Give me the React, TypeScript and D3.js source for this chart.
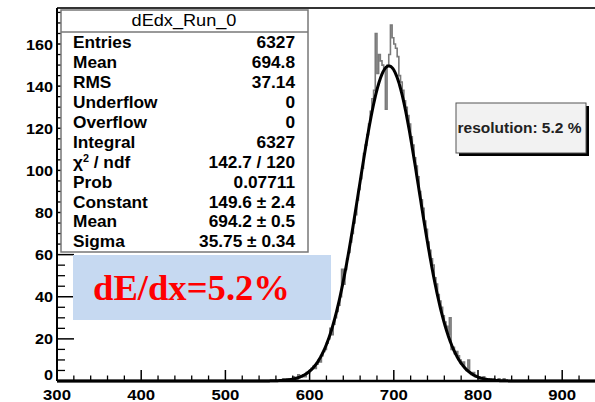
import React from 'react';
import * as d3 from 'd3';

// Histogram title and statistics box contents
const histTitle = 'dEdx_Run_0';
const statLabels = ['Entries', 'Mean', 'RMS', 'Underflow', 'Overflow', 'Integral', 'χ2 / ndf', 'Prob', 'Constant', 'Mean', 'Sigma'];
const statValues = ['6327', '694.8', '37.14', '0', '0', '6327', '142.7 / 120', '0.07711', '149.6 ± 2.4', '694.2 ± 0.5', '35.75 ± 0.34'];

// dE/dx histogram: bins of width 2 starting at 560
const binStart = 560;
const binWidth = 2;
const counts = [
  0, 0, 0, 0, 1,
  0, 1, 0, 1, 1,
  2, 1, 1, 3, 2,
  2, 3, 2, 4, 4,
  5, 6, 7, 6, 8,
  10, 9, 12, 14, 15,
  18, 20, 25, 22, 27,
  30, 33, 36, 40, 53,
  46, 53, 58, 61, 66,
  70, 75, 79, 86, 91,
  96, 101, 108, 112, 117,
  122, 128, 134, 138, 165,
  146, 155, 152, 150, 148,
  129, 150, 155, 169, 163,
  160, 158, 154, 145, 142,
  138, 133, 130, 126, 122,
  116, 112, 106, 102, 97,
  90, 86, 82, 76, 72,
  66, 62, 58, 55, 49,
  46, 41, 38, 35, 31,
  28, 26, 22, 30, 15,
  16, 13, 14, 12, 10,
  8, 9, 6, 5, 10,
  4, 3, 4, 2, 2,
  2, 1, 1, 2, 0,
  1, 0, 1, 0, 1,
  0, 0, 1, 0, 0,
  1, 0, 0, 0, 0,
];

// Gaussian fit parameters
const fitConstant = 149.6;
const fitMean = 694.2;
const fitSigma = 35.75;

const xTickValues = [300, 400, 500, 600, 700, 800, 900];
const yTickValues = [0, 20, 40, 60, 80, 100, 120, 140, 160];

const resolutionText = 'resolution: 5.2 %';
const annotationText = 'dE/dx=5.2%';

const W = 595;
const H = 402;
const SANS = '"Liberation Sans", Arial, Helvetica, sans-serif';
const SERIF = '"Liberation Serif", "Times New Roman", serif';

function SText(props: {
  x: number; y: number; anchor?: string; size: number; weight?: string | number; sx?: number; fill?: string; children: React.ReactNode;
}) {
  const { x, y, anchor = 'start', size, weight = 'normal', sx = 1.08, fill = '#000', children } = props;
  return (
    <text
      transform={`translate(${x},${y}) scale(${sx},1)`}
      textAnchor={anchor}
      fontSize={size}
      fontWeight={weight}
      fontFamily={SANS}
      fill={fill}
    >
      {children}
    </text>
  );
}

export default function App() {
  const x = d3.scaleLinear().domain([300, 1000]).range([57, 646.4]);
  const y = d3.scaleLinear().domain([0, 177.1]).range([381, 8]);

  // Step outline of the histogram
  const pts: [number, number][] = [[binStart, 0]];
  counts.forEach((c, i) => pts.push([binStart + i * binWidth, c]));
  const binEnd = binStart + counts.length * binWidth;
  pts.push([binEnd, counts[counts.length - 1]]);
  pts.push([binEnd, 0]);
  const histPath = d3.line<[number, number]>()
    .x(d => x(d[0]))
    .y(d => y(d[1]))
    .curve(d3.curveStepAfter)(pts) as string;

  // Gaussian fit curve
  const fitPts: [number, number][] = d3.range(300, 1000.5, 1).map(v => [
    v,
    fitConstant * Math.exp(-0.5 * ((v - fitMean) / fitSigma) ** 2),
  ]);
  const fitPath = d3.line<[number, number]>()
    .x(d => x(d[0]))
    .y(d => y(d[1]))
    .curve(d3.curveMonotoneX)(fitPts) as string;

  const xMinor = d3.range(300, 1001, 20).filter(v => v % 100 !== 0);
  const yMinor = d3.range(0, 177, 5).filter(v => v % 20 !== 0);

  const x0 = x(300);
  const yBase = y(0);

  const rowY0 = 48.3;
  const rowStep = 19.9;

  return (
    <svg width={W} height={H} style={{ position: 'absolute', left: 0, top: 0, background: '#fff' }}>
      <rect x={0} y={0} width={W} height={H} fill="#fff" />

      {/* frame */}
      <line x1={x0} x2={W + 10} y1={8} y2={8} stroke="#333" strokeWidth={2} />

      {/* histogram and fit */}
      <path d={histPath} fill="none" stroke="#7a7a7a" strokeWidth={1.6} />
      <path d={fitPath} fill="none" stroke="#000" strokeWidth={3} strokeLinejoin="round" />

      {/* x axis */}
      <line x1={x0} x2={W + 10} y1={yBase} y2={yBase} stroke="#000" strokeWidth={2.5} />
      {xTickValues.map(v => (
        <g key={'xt' + v}>
          <line x1={x(v)} x2={x(v)} y1={yBase} y2={yBase - 11} stroke="#000" strokeWidth={1.5} />
          <SText x={x(v)} y={399.5} anchor="middle" size={15.5} weight="bold">{v}</SText>
        </g>
      ))}
      {xMinor.map(v => (
        <line key={'xm' + v} x1={x(v)} x2={x(v)} y1={yBase} y2={yBase - 5.5} stroke="#000" strokeWidth={1.3} />
      ))}

      {/* y axis */}
      <line x1={x0} x2={x0} y1={8} y2={yBase} stroke="#000" strokeWidth={2} />
      {yTickValues.map(v => (
        <g key={'yt' + v}>
          <line x1={x0} x2={x0 + 17} y1={y(v)} y2={y(v)} stroke="#000" strokeWidth={1.5} />
          <SText x={53} y={y(v) + (v === 0 ? -1 : 5.5)} anchor="end" size={15} weight="bold">{v}</SText>
        </g>
      ))}
      {yMinor.map(v => (
        <line key={'ym' + v} x1={x0} x2={x0 + 8} y1={y(v)} y2={y(v)} stroke="#000" strokeWidth={1.3} />
      ))}

      {/* statistics box */}
      <rect x={61} y={10} width={247} height={242} fill="#fff" stroke="#777" strokeWidth={1.5} />
      <line x1={61} x2={308} y1={32} y2={32} stroke="#777" strokeWidth={1.5} />
      <SText x={184} y={25.5} anchor="middle" size={16.5} sx={1.1}>{histTitle}</SText>
      {statLabels.map((lab, i) => {
        const yy = rowY0 + i * rowStep;
        const label = lab.startsWith('χ2') ? (
          <>
            χ<tspan dy={-6} fontSize={10}>2</tspan><tspan dy={6}>{lab.slice(2)}</tspan>
          </>
        ) : lab;
        return (
          <g key={'st' + i}>
            <SText x={73} y={yy} size={16} weight="bold">{label}</SText>
            <SText x={295} y={yy} anchor="end" size={16} weight="bold">{statValues[i]}</SText>
          </g>
        );
      })}

      {/* annotation box */}
      <rect x={73} y={255} width={258} height={65} fill="#c6d9f1" />
      <text
        x={93}
        y={300}
        fontFamily={SERIF}
        fontWeight="bold"
        fontSize={35}
        fill="#ff0000"
        textLength={197}
        lengthAdjust="spacingAndGlyphs"
      >
        {annotationText}
      </text>

      {/* resolution label */}
      <rect x={459} y={106} width={130} height={50} fill="#000" />
      <rect x={456} y={103} width={130} height={50} fill="#f2f2f2" stroke="#555" strokeWidth={1} />
      <text
        x={457.5}
        y={133}
        fontFamily={SANS}
        fontWeight="bold"
        fontSize={14}
        fill="#222"
        textLength={124}
        lengthAdjust="spacingAndGlyphs"
      >
        {resolutionText}
      </text>
    </svg>
  );
}
